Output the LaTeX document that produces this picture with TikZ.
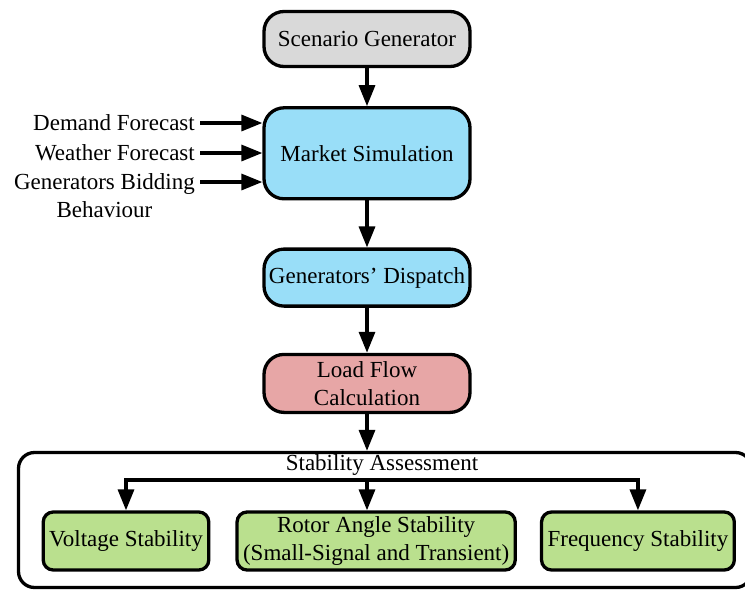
\documentclass[tikz,border=0pt]{standalone}
\usepackage{fontspec}
\setmainfont{Liberation Serif}
\usetikzlibrary{arrows.meta,positioning}

\definecolor{scengray}{RGB}{217,217,217}
\definecolor{mktblue}{RGB}{153,222,248}
\definecolor{lfpink}{RGB}{231,166,166}
\definecolor{stabgreen}{RGB}{186,224,142}

\tikzset{
  box/.style={draw, line width=3.3pt, rounded corners=20pt, minimum width=206pt, align=center, inner sep=4pt},
  subbox/.style={draw, line width=3.3pt, rounded corners=10pt, minimum height=58pt, inner xsep=6pt, align=center, fill=stabgreen},
  arr/.style={line width=3.3pt, -{Triangle[length=21pt,width=16pt]}},
  inlabel/.style={inner ysep=0pt, inner xsep=5pt, text height=17pt, text depth=3pt},
}

\begin{document}
\begin{tikzpicture}[x=1pt, y=-1pt, every node/.style={font=\fontsize{23pt}{28pt}\selectfont}]
   \useasboundingbox (0,0) rectangle (745,590);
   % main chain
   \node[box, fill=scengray, minimum height=55pt] (scen) at (367,39) {Scenario Generator};
   \node[box, fill=mktblue, minimum height=91pt] (mkt) [below=38pt of scen] {Market Simulation};
   \node[box, fill=mktblue, minimum height=57pt] (disp) [below=47pt of mkt] {Generators' Dispatch};
   \node[box, fill=lfpink, minimum height=58pt] (lf) [below=45pt of disp] {Load Flow\\Calculation};
   % inputs
   \node[inlabel, anchor=east] (dem) at (200,123) {Demand Forecast};
   \node[inlabel, anchor=east] (wea) at (200,153) {Weather Forecast};
   \node[inlabel, anchor=east] (gen) at (200,182) {Generators Bidding};
   \node[inlabel] (beh) [below=8pt of gen] {Behaviour};
   % stability assessment
   \node[draw, line width=3.3pt, rounded corners=16pt, minimum width=733pt, minimum height=135pt] (stab) at (385,520) {};
   \node (stabt) at (382,465) {Stability Assessment};
   \node[subbox] (volt) at (126,541) {Voltage Stability};
   \node[subbox] (rotor) [right=25pt of volt] {Rotor Angle Stability\\(Small-Signal and Transient)};
   \node[subbox] (freq) [right=23pt of rotor] {Frequency Stability};
   \coordinate (br) at (367,480);
   \draw[arr] (scen) -- (mkt);
   \draw[arr] (mkt) -- (disp);
   \draw[arr] (disp) -- (lf);
   \draw[arr] (lf) -- (lf |- stab.north);
   \draw[arr] (dem.east) -- (dem.east -| mkt.west);
   \draw[arr] (wea.east) -- (wea.east -| mkt.west);
   \draw[arr] (gen.east) -- (gen.east -| mkt.west);
   \draw[arr] (br) -| (volt);
   \draw[arr] (br) -| (freq);
   \draw[arr] (br) -- (br |- rotor.north);
\end{tikzpicture}
\end{document}
